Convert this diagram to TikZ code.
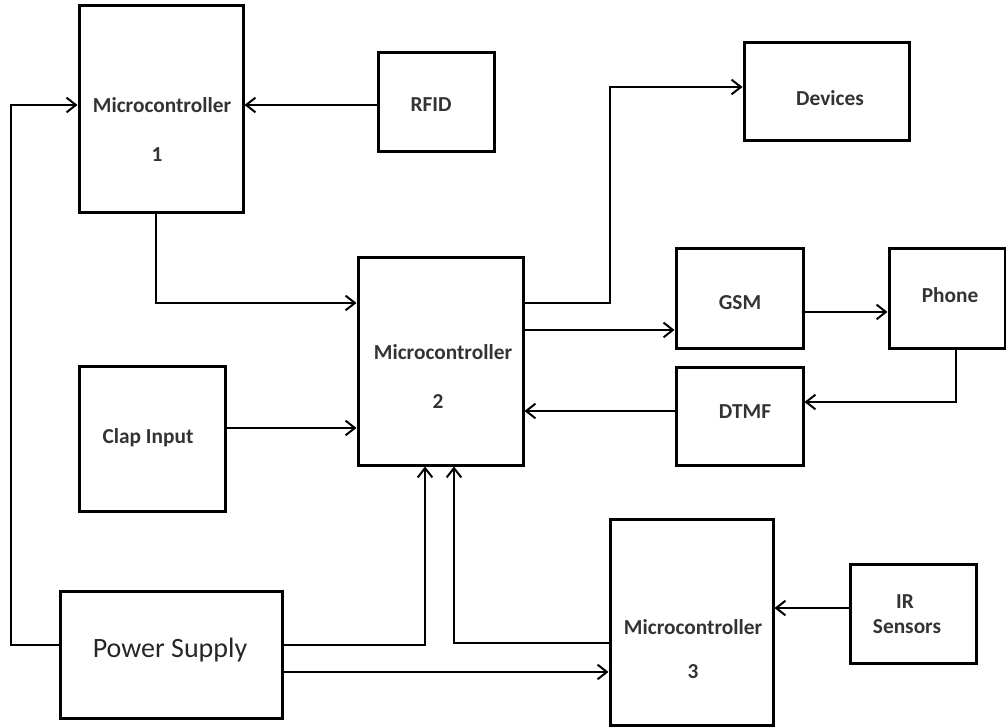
\documentclass[tikz,border=0pt]{standalone}
\usepackage{fontspec}
\setmainfont{Carlito}
\usetikzlibrary{arrows.meta}
\begin{document}
\begin{tikzpicture}[x=0.75pt,y=-0.75pt,
  blk/.style={draw, line width=2.25pt, rectangle, inner sep=0pt},
  lab/.style={font=\bfseries\fontsize{16}{19}\selectfont, text=black!80, inner sep=0pt, align=center},
  biglab/.style={font=\fontsize{21}{24}\selectfont, text=black!85, inner sep=0pt},
  arr/.style={line width=1.5pt, -{Straight Barb[length=7pt,width=11pt,line width=1.5pt]}}]
\useasboundingbox (0,0) rectangle (1006,727);

% boxes
\node[blk, minimum width=123pt,   minimum height=155.25pt] (mc1)     at (161,109.5) {};
\node[blk, minimum width=87pt,    minimum height=74.25pt]  (rfid)    at (436,102.5) {};
\node[blk, minimum width=123.75pt,minimum height=73.5pt]   (devices) at (826.5,92) {};
\node[blk, minimum width=123.75pt,minimum height=155.25pt] (mc2)     at (440.5,361.5) {};
\node[blk, minimum width=95.25pt, minimum height=74.25pt]  (gsm)     at (739.5,298.5) {};
\node[blk, minimum width=87pt,    minimum height=74.25pt]  (phone)   at (947,298.5) {};
\node[blk, minimum width=95.25pt, minimum height=73.5pt]   (dtmf)    at (739.5,416) {};
\node[blk, minimum width=109.5pt, minimum height=108.75pt] (clap)    at (152,438.5) {};
\node[blk, minimum width=166.5pt, minimum height=95.25pt]  (ps)      at (171,654.5) {};
\node[blk, minimum width=122.25pt,minimum height=154.5pt]  (mc3)     at (691.5,622) {};
\node[blk, minimum width=94.5pt,  minimum height=74.25pt]  (ir)      at (913,613.5) {};

% texts
\node[lab] (mc1t) at (162,105) {Microcontroller};
\node[lab] (mc1n) at (157,155) {1};
\node[lab] (mc2t) at (443,352) {Microcontroller};
\node[lab] (mc2n) at (438,402) {2};
\node[lab] (mc3t) at (693,627) {Microcontroller};
\node[lab] (mc3n) at (693,672) {3};
\node[lab] (rfidt) at (431,105) {RFID};
\node[lab] (devt) at (830,98) {Devices};
\node[lab] (gsmt) at (740,303) {GSM};
\node[lab] (phonet) at (950,295) {Phone};
\node[lab] (dtmft) at (745,412) {DTMF};
\node[lab] (clapt) at (148,438) {Clap Input};
\node[biglab] (pst) at (170,650) {Power Supply};
\node[lab] (irt1) at (905,602) {IR};
\node[lab] (irt2) at (907,627) {Sensors};

% port points
\coordinate (c1)  at ([yshift=7.5pt]ps.west);
\coordinate (c2)  at ([yshift=7.5pt]ps.east);
\coordinate (c3)  at ([yshift=-13.1pt]ps.east);
\coordinate (c4)  at ([yshift=7.9pt]clap.east);
\coordinate (c5)  at ([yshift=43.9pt]mc2.west);
\coordinate (c6)  at ([yshift=43.9pt]mc2.east);
\coordinate (c7)  at ([yshift=3.75pt]devices.west);
\coordinate (c8)  at ([yshift=-23.6pt]gsm.west);
\coordinate (c9)  at ([yshift=-10.1pt]gsm.east);
\coordinate (c10) at ([xshift=6.75pt]phone.south);
\coordinate (c11) at ([yshift=10.5pt]dtmf.east);
\coordinate (c12) at ([yshift=3.75pt]dtmf.west);
\coordinate (c13) at ([xshift=-11.6pt]mc2.south);
\coordinate (c14) at ([xshift=10.1pt]mc2.south);
\coordinate (c15) at ([yshift=-15.75pt]mc3.west);
\coordinate (c16) at ([yshift=4.1pt]ir.west);
\coordinate (c17) at ([xshift=-3.75pt]mc1.south);

% connectors
\draw[arr] (rfid.west |- mc1t) -- (mc1.east |- mc1t);
\draw[arr] (c1) -- ++(-48,0) |- (mc1.west |- mc1t);
\draw[arr] (c17) |- (c5);
\draw[arr] (c4) -- (c4 -| mc2.west);
\draw[arr] (c6) -- ++(85,0) |- (c7);
\draw[arr] (c8 -| mc2.east) -- (c8);
\draw[arr] (c9) -- (c9 -| phone.west);
\draw[arr] (c10) |- (c11);
\draw[arr] (c12) -- (c12 -| mc2.east);
\draw[arr] (c2) -| (c13);
\draw[arr] (c15) -| (c14);
\draw[arr] (c3) -- (c3 -| mc3.west);
\draw[arr] (c16) -- (c16 -| mc3.east);
\end{tikzpicture}
\end{document}
